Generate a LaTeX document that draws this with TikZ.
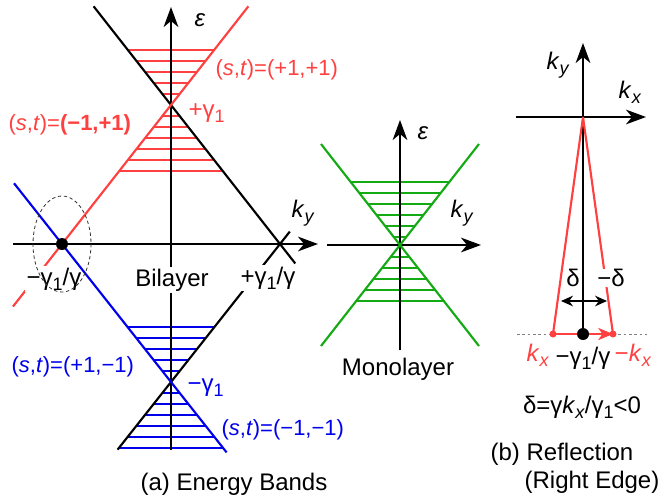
\documentclass[tikz,border=0pt]{standalone}
\usepackage{fontspec}
\setmainfont{Liberation Sans}
\usetikzlibrary{arrows.meta,calc}

\definecolor{bandred}{RGB}{255,64,64}
\definecolor{bandblue}{RGB}{0,0,235}
\definecolor{bandgreen}{RGB}{20,170,20}

\newcommand{\lowsub}[1]{\raisebox{-3.6pt}{\fontsize{13.5}{14}\selectfont #1}}
\newcommand{\gammaone}{γ\lowsub{1}}
\newcommand{\ky}{\textit{k}\lowsub{\textit{y}}}
\newcommand{\kx}{\textit{k}\lowsub{\textit{x}}}
\newcommand{\st}{(\textit{s},\textit{t})=}

\begin{document}
\begin{tikzpicture}[
  x=0.75pt,y=-0.75pt,
  >={Stealth[length=15pt,width=11pt,inset=4.5pt]},
  axis/.style={line width=1.4pt,->},
  band/.style={line width=1.6pt},
  hatch/.style={line width=0.9pt},
  lbl/.style={font=\fontsize{18}{21}\selectfont,inner sep=1pt},
  stlbl/.style={font=\fontsize{16.5}{19}\selectfont,inner sep=1pt},
  mask/.style={fill=white},
]
\useasboundingbox (0,0) rectangle (663,500);

% ===================================================================
% (a) Bilayer
% ===================================================================
\coordinate (P) at (171,105);   % +gamma_1
\coordinate (Q) at (171,382);   % -gamma_1
\coordinate (L) at (62,244);    % -gamma_1/gamma
\coordinate (R) at (280,244);   % +gamma_1/gamma

% hatching behind everything
\foreach \d in {-55,-44,-33,-22,-11,11,22,33,44,55,66} {
  \draw[hatch,bandred]  ($(P)+({-0.784*(\d)},\d)$) -- ($(P)+({0.784*(\d)},\d)$);
  \draw[hatch,bandblue] ($(Q)+({-0.79*(\d)},\d)$) -- ($(Q)+({0.79*(\d)},\d)$);
}

% axes
\draw[axis] (171,450) -- (171,7);
\draw[axis] (13,244) -- (318,244);

% bands
\draw[band] ($(P)!-0.71!(R)$) -- ($(P)!1.14!(R)$);
\draw[band] ($(Q)!-0.49!(R)$) -- ($(Q)!1.09!(R)$);
\draw[band,bandred] ($(P)!-0.71!(L)$) -- ($(P)!1.45!(L)$);

% labels
\node[lbl] (eps) at (200,20) {\textit{ε}};
\node[lbl] (ky) at (303,213) {\ky};
\node[stlbl,bandred,anchor=west] (stpp) at (214,70) {\st(+1,+1)};
\node[lbl,bandred,anchor=west] (pgam) at (187,113) {+\gammaone};
\node[stlbl,bandred,anchor=west] (stmp) at (7,125) {\st\textbf{(−1,+1)}};
\node[lbl,mask] (mgg) at (54,279) {−\gammaone/γ};
\node[lbl,mask] (bil) at (172,280) {Bilayer};
\node[lbl,mask] (pgg) at (268,278) {+\gammaone/γ};

\draw[band,bandblue] ($(Q)!1.44!(L)$) -- ($(Q)!-0.51!(L)$);
\draw[dashed,dash pattern=on 2.5pt off 2pt,line width=0.6pt,gray!40!black] (L) ellipse [x radius=29,y radius=48];
\fill (L) circle [radius=6];

\node[stlbl,bandblue,anchor=west] (stpm) at (10,367) {\st(+1,−1)};
\node[lbl,bandblue,anchor=west] (mgam) at (186,388) {−\gammaone};
\node[stlbl,bandblue,anchor=west] (stmm) at (220,430) {\st(−1,−1)};
\node[lbl] (capa) at (234,484) {(a) Energy Bands};

% ===================================================================
% Monolayer
% ===================================================================
\coordinate (M) at (400,245);
\foreach \d in {-63,-52,-41,-30,-19,-8,12,23,34,45,56}
  \draw[hatch,bandgreen] ($(M)+({-0.78*(\d)},\d)$) -- ($(M)+({0.78*(\d)},\d)$);
\draw[axis] (400,350) -- (400,120);
\draw[axis] (327,245) -- (481,245);
\draw[band,bandgreen] (321,144) -- (479,346);
\draw[band,bandgreen] (321,346) -- (479,144);
\node[lbl] (meps) at (423,133) {\textit{ε}};
\node[lbl] (mky) at (462,213) {\ky};
\node[lbl] (mono) at (398,369) {Monolayer};

% ===================================================================
% (b) Reflection
% ===================================================================
\coordinate (apex) at (583,117);
\coordinate (base) at (583,334);
\coordinate (kl) at (553,334);
\coordinate (kr) at (613,334);

\draw[gray,thin,dashed,dash pattern=on 2pt off 2pt] (517,334) -- (647,334);
\draw[axis] (base) -- (583,43);
\draw[axis] (516,117) -- (646,117);
\draw[band,bandred] (apex) -- (kl);
\draw[band,bandred] (apex) -- (kr);
\node[lbl,mask,inner sep=0.5pt] (mdel) at (611,278) {−δ};
\node[lbl] (del) at (573,278) {δ};
\draw[line width=1pt,{Stealth[length=9pt,width=8pt]}-{Stealth[length=9pt,width=8pt]}] (561,301) -- (607,301);
\draw[line width=1.8pt,bandred,-{Stealth[length=11pt,width=9pt,inset=3pt]}] (kl) -- (kr);
\fill[bandred] (kl) circle [radius=3.5];
\fill[bandred] (kr) circle [radius=3.5];
\fill (base) circle [radius=6];

\node[lbl] (rky) at (558,65) {\ky};
\node[lbl] (rkx) at (630,92) {\kx};
\node[lbl,bandred] (lkx) at (538,355) {\kx};
\node[lbl] (bgg) at (583,358) {−\gammaone/γ};
\node[lbl,bandred] (rmkx) at (633,355) {−\kx};
\node[lbl] (deldef) at (582,407) {δ=γ\kx/\gammaone<0};
\node[lbl] (capb) at (562,454) {(b) Reflection};
\node[lbl] (capb2) at (592,482) {(Right Edge)};

\end{tikzpicture}
\end{document}
